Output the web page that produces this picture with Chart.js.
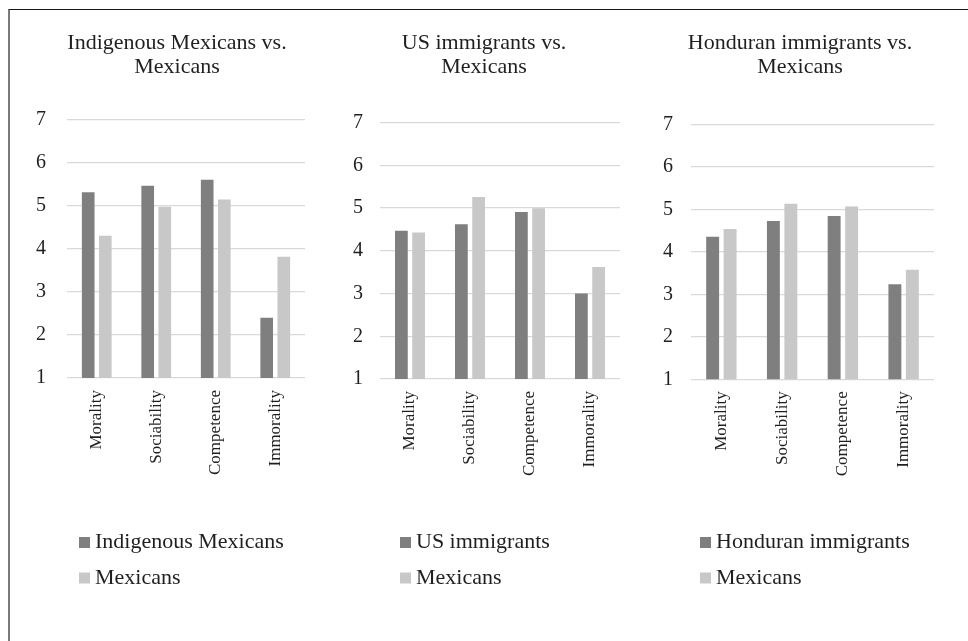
<!DOCTYPE html>
<html>
<head>
<meta charset="utf-8">
<title>Stereotype ratings: target groups vs. Mexicans</title>
<script src="https://cdn.jsdelivr.net/npm/chart.js@4.4.1/dist/chart.umd.min.js"></script>
<style>
  html, body { margin: 0; padding: 0; background: #ffffff; width: 968px; height: 641px; overflow: hidden; }
  #frame {
    position: absolute; left: 8px; top: 9px; width: 990px; height: 700px;
    border-top: 1.5px solid #1a1a1a; border-left: 2px solid #7a7a7a;
  }
  canvas { position: absolute; top: 0; }
</style>
</head>
<body>
<div id="frame"></div>
<canvas id="panelIndigenous"></canvas>
<canvas id="panelUS"></canvas>
<canvas id="panelHonduran"></canvas>

<script>
// ---- data ----
const categories = ['Morality', 'Sociability', 'Competence', 'Immorality'];
const yTicks = [1, 2, 3, 4, 5, 6, 7];

const indigenousMexicans   = [5.32, 5.47, 5.61, 2.40];
const mexicansVsIndigenous = [4.31, 4.98, 5.15, 3.82];

const usImmigrants         = [4.47, 4.62, 4.91, 3.00];
const mexicansVsUS         = [4.43, 5.26, 5.00, 3.62];

const honduranImmigrants   = [4.36, 4.73, 4.85, 3.24];
const mexicansVsHonduran   = [4.54, 5.14, 5.07, 3.58];

const titleIndigenous = ['Indigenous Mexicans vs.', 'Mexicans'];
const titleUS         = ['US immigrants vs.', 'Mexicans'];
const titleHonduran   = ['Honduran immigrants vs.', 'Mexicans'];

// ---- styling ----
const SERIF = "'Liberation Serif', 'Times New Roman', serif";
const TEXT = '#1f1f1f';
const DARK = '#7f7f7f';
const LIGHT = '#c8c8c8';
const CANVAS_H = 641;

// Two-row legend drawn under each panel
const stackedLegend = {
  id: 'stackedLegend',
  afterDraw(chart, args, opts) {
    const ctx = chart.ctx;
    ctx.save();
    ctx.font = opts.fontSize + 'px ' + SERIF;
    ctx.textBaseline = 'middle';
    ctx.textAlign = 'left';
    chart.data.datasets.forEach((ds, i) => {
      const y = opts.top + i * opts.rowGap;
      ctx.fillStyle = ds.backgroundColor;
      ctx.fillRect(opts.left, y - opts.box / 2, opts.box, opts.box);
      ctx.fillStyle = TEXT;
      ctx.fillText(ds.label, opts.left + opts.box + opts.gap, y);
    });
    ctx.restore();
  }
};

// Panel geometry (page pixels): the title is centred over [boxLeft, boxRight]
const panels = [
  { id: 'panelIndigenous', title: titleIndigenous,
    series: [['Indigenous Mexicans', indigenousMexicans, DARK], ['Mexicans', mexicansVsIndigenous, LIGHT]],
    boxLeft: 30, boxRight: 324, plotLeft: 67, plotRight: 305, plotTop: 120, plotBottom: 378, tickRight: 46, legendLeft: 79 },
  { id: 'panelUS', title: titleUS,
    series: [['US immigrants', usImmigrants, DARK], ['Mexicans', mexicansVsUS, LIGHT]],
    boxLeft: 346, boxRight: 622, plotLeft: 380, plotRight: 620, plotTop: 122.7, plotBottom: 379, tickRight: 363, legendLeft: 400 },
  { id: 'panelHonduran', title: titleHonduran,
    series: [['Honduran immigrants', honduranImmigrants, DARK], ['Mexicans', mexicansVsHonduran, LIGHT]],
    boxLeft: 656, boxRight: 944, plotLeft: 691, plotRight: 934, plotTop: 124.7, plotBottom: 379.3, tickRight: 673, legendLeft: 700 }
];

const TITLE_SIZE = 22, TITLE_LINE = 24, TITLE_PAD_TOP = 31;
const X_AXIS_H = 110;

panels.forEach(p => {
  const el = document.getElementById(p.id);
  el.width = p.boxRight - p.boxLeft;
  el.height = CANVAS_H;
  el.style.left = p.boxLeft + 'px';

  const yAxisW = p.plotLeft - p.boxLeft;
  const rightGap = p.boxRight - p.plotRight;
  const titleBottomPad = p.plotTop - TITLE_PAD_TOP - TITLE_LINE * p.title.length;
  const padBottom = CANVAS_H - X_AXIS_H - p.plotBottom;

  new Chart(el, {
    type: 'bar',
    data: {
      labels: categories,
      datasets: p.series.map(([label, values, color]) => ({
        label: label,
        data: values,
        backgroundColor: color,
        borderWidth: 0,
        categoryPercentage: 0.575,
        barPercentage: 0.74
      }))
    },
    options: {
      responsive: false,
      animation: false,
      layout: { padding: { left: 0, right: 0, top: 0, bottom: padBottom } },
      plugins: {
        legend: { display: false },
        tooltip: { enabled: false },
        title: {
          display: true,
          text: p.title,
          color: TEXT,
          font: { family: SERIF, size: TITLE_SIZE, weight: 'normal', lineHeight: TITLE_LINE / TITLE_SIZE },
          padding: { top: TITLE_PAD_TOP, bottom: titleBottomPad }
        },
        stackedLegend: {
          left: p.legendLeft - p.boxLeft, top: 542.5, rowGap: 35.5,
          box: 11, gap: 5, fontSize: 22
        }
      },
      scales: {
        x: {
          grid: { display: false },
          border: { display: false },
          ticks: {
            autoSkip: false, minRotation: 90, maxRotation: 90,
            color: TEXT, padding: 4,
            font: { family: SERIF, size: 17 }
          },
          afterFit(scale) { scale.height = X_AXIS_H; }
        },
        y: {
          min: yTicks[0],
          max: yTicks[yTicks.length - 1],
          afterBuildTicks(scale) { scale.ticks = yTicks.map(v => ({ value: v })); },
          grid: { color: '#d9d9d9', lineWidth: 1.3, drawTicks: false },
          border: { display: false },
          ticks: {
            color: TEXT,
            padding: p.plotLeft - p.tickRight,
            font: { family: SERIF, size: 20 }
          },
          afterFit(scale) { scale.width = yAxisW; }
        },
        // empty spacer on the right so the title sits centred over the whole panel
        spacer: {
          type: 'linear',
          position: 'right',
          display: true,
          grid: { display: false, drawTicks: false },
          border: { display: false },
          ticks: { display: false },
          afterFit(scale) { scale.width = rightGap; }
        }
      }
    },
    plugins: [stackedLegend]
  });
});
</script>
</body>
</html>
